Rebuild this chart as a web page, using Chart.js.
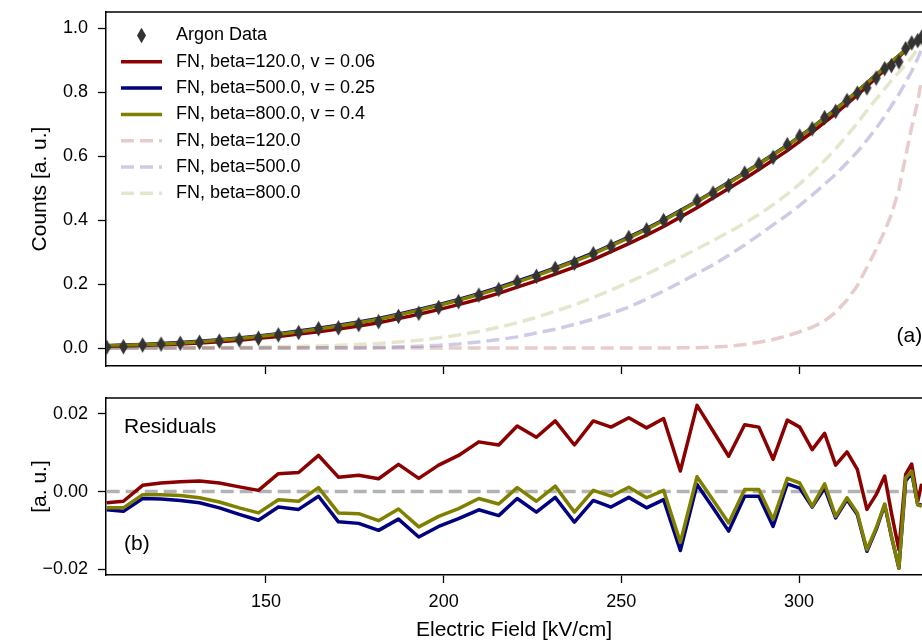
<!DOCTYPE html>
<html>
<head>
<meta charset="utf-8">
<title>Argon data - FN fits</title>
<script src="https://cdn.jsdelivr.net/npm/chart.js@4.4.1/dist/chart.umd.min.js"></script>
<style>
  html, body { margin: 0; padding: 0; background: #fff; overflow: hidden; }
  #wrap { position: relative; width: 922px; height: 641px; }
  #countsChart { position: absolute; left: 0; top: 0; }
  #residChart { position: absolute; left: 0; top: 390px; }
</style>
</head>
<body>
<div id="wrap">
  <canvas id="countsChart" width="922" height="390"></canvas>
  <canvas id="residChart" width="922" height="251"></canvas>
</div>
<script>
// electric field of each measurement [kV/cm]
const fieldKV = [105.2, 109.9, 115.3, 120.5, 125.9, 131.3, 136.9, 142.5, 147.9, 153.5,
  159.2, 164.8, 170.4, 176.1, 181.7, 187.3, 193.0, 198.6, 204.2, 209.9,
  215.5, 220.7, 226.1, 231.4, 236.8, 242.1, 247.1, 252.1, 257.1, 261.9,
  266.6, 271.3, 275.8, 280.2, 284.7, 288.7, 292.7, 296.7, 300.2, 303.7,
  307.2, 310.3, 313.5, 316.4, 319.1, 321.7, 324.1, 326.0, 328.1, 330.0,
  331.7, 333.4, 334.5];

// normalised counts [a. u.]
const argonCounts = [0.0028, 0.0043, 0.0097, 0.0122, 0.0150, 0.0182, 0.0218, 0.0258, 0.0307, 0.0411,
  0.0485, 0.0605, 0.0633, 0.0733, 0.0825, 0.0990, 0.1089, 0.1268, 0.1451, 0.1654,
  0.1830, 0.2072, 0.2241, 0.2492, 0.2652, 0.2948, 0.3178, 0.3456, 0.3694, 0.3988,
  0.4144, 0.4608, 0.4843, 0.5079, 0.5465, 0.5745, 0.5958, 0.6354, 0.6622, 0.6852,
  0.7200, 0.7396, 0.7734, 0.7965, 0.8130, 0.8436, 0.8728, 0.8826, 0.8943, 0.9355,
  0.9532, 0.9606, 0.9712];

// residuals (data - fit) for each fitted FN curve
const resBeta120 = [-0.0029, -0.0025, 0.0016, 0.0022, 0.0025, 0.0027, 0.0022, 0.0012, 0.0003, 0.0046,
  0.0049, 0.0093, 0.0037, 0.0042, 0.0033, 0.0070, 0.0034, 0.0068, 0.0093, 0.0128,
  0.0120, 0.0169, 0.0140, 0.0182, 0.0120, 0.0182, 0.0166, 0.0190, 0.0164, 0.0188,
  0.0053, 0.0222, 0.0156, 0.0091, 0.0172, 0.0166, 0.0083, 0.0184, 0.0166, 0.0108,
  0.0150, 0.0068, 0.0102, 0.0057, -0.0046, -0.0008, 0.0040, -0.0055, -0.0150, 0.0044,
  0.0071, -0.0025, 0.0020];
const resBeta500 = [-0.0047, -0.0051, -0.0018, -0.0019, -0.0023, -0.0029, -0.0042, -0.0059, -0.0074, -0.0040,
  -0.0046, -0.0012, -0.0078, -0.0082, -0.0100, -0.0071, -0.0117, -0.0090, -0.0070, -0.0047,
  -0.0062, -0.0018, -0.0053, -0.0015, -0.0079, -0.0023, -0.0040, -0.0015, -0.0042, -0.0021,
  -0.0152, 0.0018, -0.0042, -0.0102, -0.0012, -0.0012, -0.0090, 0.0020, 0.0009, -0.0040,
  0.0009, -0.0068, -0.0021, -0.0059, -0.0154, -0.0098, -0.0034, -0.0116, -0.0197, 0.0027,
  0.0048, -0.0034, -0.0034];
const resBeta800 = [-0.0042, -0.0042, -0.0008, -0.0008, -0.0010, -0.0016, -0.0027, -0.0042, -0.0055, -0.0021,
  -0.0025, 0.0010, -0.0055, -0.0057, -0.0075, -0.0045, -0.0091, -0.0064, -0.0044, -0.0018,
  -0.0032, 0.0010, -0.0025, 0.0014, -0.0053, 0.0003, -0.0012, 0.0011, -0.0016, 0.0003,
  -0.0131, 0.0038, -0.0022, -0.0081, 0.0005, 0.0005, -0.0072, 0.0034, 0.0022, -0.0038,
  0.0020, -0.0064, -0.0016, -0.0055, -0.0150, -0.0094, -0.0032, -0.0114, -0.0197, 0.0035,
  0.0052, -0.0034, -0.0038];

// FN curves without the v correction
const fnBeta120 = [0, 0, 0, 0, 0, 0, 0, 0, 0, 0,
  0, 0, 0, 0, 0, 0, 0, 0, 0, 0,
  0, 0, 0, 0, 0, 0, 0.0001, 0.0002, 0.0003, 0.0005,
  0.0008, 0.0013, 0.0030, 0.0060, 0.0110, 0.0180, 0.0270, 0.0380, 0.0510, 0.0650,
  0.0850, 0.1120, 0.1500, 0.1950, 0.2520, 0.3080, 0.3650, 0.4180, 0.4950, 0.6000,
  0.6900, 0.7700, 0.8400];
const fnBeta500 = [0, 0, 0, 0, 0.0001, 0.0001, 0.0002, 0.0003, 0.0004, 0.0005,
  0.0006, 0.0008, 0.0010, 0.0014, 0.0024, 0.0038, 0.0055, 0.0085, 0.0130, 0.0190,
  0.0265, 0.0350, 0.0470, 0.0590, 0.0740, 0.0900, 0.1080, 0.1280, 0.1530, 0.1780,
  0.2050, 0.2330, 0.2600, 0.2900, 0.3220, 0.3530, 0.3850, 0.4160, 0.4460, 0.4780,
  0.5120, 0.5430, 0.5790, 0.6130, 0.6500, 0.6870, 0.7240, 0.7570, 0.7930, 0.8300,
  0.8650, 0.9050, 0.9330];
const fnBeta800 = [0, 0.0001, 0.0002, 0.0004, 0.0007, 0.0011, 0.0016, 0.0023, 0.0031, 0.0041,
  0.0053, 0.0068, 0.0087, 0.0110, 0.0145, 0.0190, 0.0245, 0.0320, 0.0410, 0.0520,
  0.0650, 0.0790, 0.0960, 0.1150, 0.1350, 0.1580, 0.1810, 0.2060, 0.2310, 0.2570,
  0.2830, 0.3100, 0.3360, 0.3620, 0.3900, 0.4170, 0.4480, 0.4810, 0.5130, 0.5480,
  0.5860, 0.6220, 0.6640, 0.7030, 0.7420, 0.7780, 0.8100, 0.8360, 0.8620, 0.8850,
  0.9080, 0.9350, 0.9560];

const xTicks = [150, 200, 250, 300];
const countTicks = [0.0, 0.2, 0.4, 0.6, 0.8, 1.0];
const residTicks = [-0.02, 0.00, 0.02];

// axis limits
const X_MIN = 105.0, X_MAX = 334.6;
const COUNT_MIN = -0.056, COUNT_MAX = 1.05;
const RES_MIN = -0.0215, RES_MAX = 0.0241;

const FONT = '"Liberation Sans", Arial, Helvetica, sans-serif';
Chart.defaults.font.family = FONT;
Chart.defaults.font.size = 18;
Chart.defaults.color = '#000';

function toPoints(ys) {
    return fieldKV.map((x, i) => ({x: x, y: ys[i]}));
}

// fitted curve = data - residual
function fitFrom(res) {
    return argonCounts.map((c, i) => c - res[i]);
}

// thin diamond marker ('d' style)
function diamondMarker() {
    var c = document.createElement('canvas');
    c.width = 11; c.height = 17;
    var g = c.getContext('2d');
    g.fillStyle = '#333333';
    g.beginPath();
    g.moveTo(5.5, 0.7);
    g.lineTo(10, 8.5);
    g.lineTo(5.5, 16.3);
    g.lineTo(1, 8.5);
    g.closePath();
    g.fill();
    return c;
}

function lineSet(label, ys, color, dash, order) {
    return {
        label: label,
        data: toPoints(ys),
        showLine: true,
        borderColor: color,
        backgroundColor: color,
        borderWidth: 3.5,
        borderDash: dash,
        borderJoinStyle: 'round',
        pointRadius: 0,
        tension: 0,
        clip: 0,
        order: order
    };
}

function xAxis(showLabels, height) {
    return {
        type: 'linear',
        min: X_MIN,
        max: X_MAX,
        afterBuildTicks: s => { s.ticks = xTicks.map(v => ({value: v})); },
        afterFit: s => { s.height = height; s.paddingLeft = 0; s.paddingRight = 0; },
        grid: { drawOnChartArea: false, drawTicks: true, tickLength: 8, tickColor: '#000', tickWidth: 1.3 },
        border: { display: true, color: '#000', width: 1.5 },
        ticks: { display: showLabels, padding: 8, maxRotation: 0, color: '#000', font: {size: 18} },
        title: {
            display: showLabels,
            text: 'Electric Field [kV/cm]',
            font: {size: 21, lineHeight: 1.0},
            color: '#000',
            padding: {top: 0, bottom: 0}
        }
    };
}

function yAxis(min, max, ticks, fmt, title) {
    return {
        type: 'linear',
        min: min,
        max: max,
        afterBuildTicks: s => { s.ticks = ticks.map(v => ({value: v})); },
        afterFit: s => { s.width = 106; s.paddingTop = 0; s.paddingBottom = 0; },
        grid: { drawOnChartArea: false, drawTicks: true, tickLength: 8, tickColor: '#000', tickWidth: 1.3 },
        border: { display: true, color: '#000', width: 1.5 },
        ticks: { callback: fmt, padding: 10, color: '#000', font: {size: 18} },
        title: {
            display: true,
            text: title,
            font: {size: 21, lineHeight: 1.0},
            color: '#000',
            padding: {top: 29.5, bottom: 0}
        }
    };
}

// top spine (left/bottom come from the axis borders)
function drawTopSpine(chart) {
    var ctx = chart.ctx, a = chart.chartArea;
    ctx.save();
    ctx.strokeStyle = '#000';
    ctx.lineWidth = 1.5;
    ctx.beginPath();
    ctx.moveTo(a.left, a.top);
    ctx.lineTo(a.right, a.top);
    ctx.stroke();
    ctx.restore();
}

const countsDecor = {
    id: 'countsDecor',
    afterDraw(chart) {
        var ctx = chart.ctx, a = chart.chartArea;
        drawTopSpine(chart);
        ctx.save();
        ctx.textBaseline = 'middle';
        ctx.textAlign = 'left';
        ctx.fillStyle = '#000';
        ctx.font = '18px ' + FONT;
        // legend in the upper left corner
        chart.data.datasets.forEach((ds, i) => {
            var y = a.top + 23.5 + i * 26.3;
            var x0 = a.left + 15;
            if (ds.pointStyle instanceof HTMLCanvasElement) {
                ctx.drawImage(ds.pointStyle, x0 + 20.5 - ds.pointStyle.width / 2, y - ds.pointStyle.height / 2);
            } else {
                ctx.strokeStyle = ds.borderColor;
                ctx.lineWidth = ds.borderWidth;
                ctx.setLineDash(ds.borderDash || []);
                ctx.beginPath();
                ctx.moveTo(x0, y);
                ctx.lineTo(x0 + 41, y);
                ctx.stroke();
                ctx.setLineDash([]);
            }
            ctx.fillText(ds.label, x0 + 55, y);
        });
        ctx.font = '21px ' + FONT;
        ctx.fillText('(a)', a.left + 790.5, a.bottom - 30);
        ctx.restore();
    }
};

const residDecor = {
    id: 'residDecor',
    afterDraw(chart) {
        var ctx = chart.ctx, a = chart.chartArea;
        drawTopSpine(chart);
        ctx.save();
        ctx.textBaseline = 'middle';
        ctx.textAlign = 'left';
        ctx.fillStyle = '#000';
        ctx.font = '21px ' + FONT;
        ctx.fillText('Residuals', a.left + 18, a.top + 29);
        ctx.fillText('(b)', a.left + 18, a.top + 146);
        ctx.restore();
    }
};

var countsChart = new Chart(document.getElementById('countsChart'), {
    type: 'scatter',
    data: {
        datasets: [
            {
                label: 'Argon Data',
                data: toPoints(argonCounts),
                pointStyle: diamondMarker(),
                pointRadius: 5,
                showLine: false,
                clip: 0,
                order: 0
            },
            lineSet('FN, beta=120.0, v = 0.06', fitFrom(resBeta120), '#8b0000', [], 6),
            lineSet('FN, beta=500.0, v = 0.25', fitFrom(resBeta500), '#000080', [], 5),
            lineSet('FN, beta=800.0, v = 0.4', fitFrom(resBeta800), '#808000', [], 4),
            lineSet('FN, beta=120.0', fnBeta120, 'rgba(139,0,0,0.2)', [13, 6], 3),
            lineSet('FN, beta=500.0', fnBeta500, 'rgba(0,0,128,0.2)', [13, 6], 2),
            lineSet('FN, beta=800.0', fnBeta800, 'rgba(128,128,0,0.2)', [13, 6], 1)
        ]
    },
    options: {
        responsive: false,
        animation: false,
        devicePixelRatio: 1,
        events: [],
        layout: { autoPadding: false, padding: {top: 12, right: 0, bottom: 0, left: 0} },
        plugins: { legend: {display: false}, tooltip: {enabled: false} },
        scales: {
            x: xAxis(false, 24),
            y: yAxis(COUNT_MIN, COUNT_MAX, countTicks, v => v.toFixed(1), 'Counts [a. u.]')
        }
    },
    plugins: [countsDecor]
});

var residChart = new Chart(document.getElementById('residChart'), {
    type: 'scatter',
    data: {
        datasets: [
            lineSet('zero', fieldKV.map(() => 0), '#b3b3b3', [13, 6], 4),
            lineSet('beta=120.0', resBeta120, '#8b0000', [], 3),
            lineSet('beta=500.0', resBeta500, '#000080', [], 2),
            lineSet('beta=800.0', resBeta800, '#808000', [], 1)
        ]
    },
    options: {
        responsive: false,
        animation: false,
        devicePixelRatio: 1,
        events: [],
        layout: { autoPadding: false, padding: {top: 8, right: 0, bottom: 0, left: 0} },
        plugins: { legend: {display: false}, tooltip: {enabled: false} },
        scales: {
            x: xAxis(true, 66),
            y: yAxis(RES_MIN, RES_MAX, residTicks,
                v => (v < 0 ? '\u2212' : '') + Math.abs(v).toFixed(2), '[a. u.]')
        }
    },
    plugins: [residDecor]
});
</script>
</body>
</html>
